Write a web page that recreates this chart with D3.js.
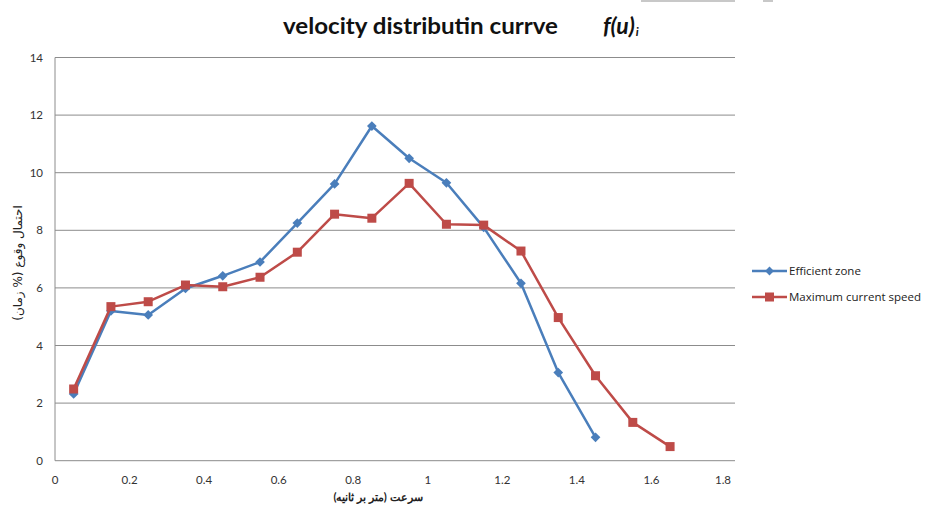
<!DOCTYPE html>
<html>
<head>
<meta charset="utf-8">
<script src="https://cdn.jsdelivr.net/npm/d3@7"></script>
<style>
  body { margin: 0; background: #fff; }
</style>
</head>
<body>
<div id="chart"></div>
<script>
// speeds (m/s) - middle of each class
var speedsEff = [0.05, 0.15, 0.25, 0.35, 0.45, 0.55, 0.65, 0.75, 0.85, 0.95, 1.05, 1.15, 1.25, 1.35, 1.45];
var speedsMax = [0.05, 0.15, 0.25, 0.35, 0.45, 0.55, 0.65, 0.75, 0.85, 0.95, 1.05, 1.15, 1.25, 1.35, 1.45, 1.55, 1.65];

// probability of occurrence (% time)
var efficientZone = [2.32, 5.2, 5.06, 5.98, 6.42, 6.9, 8.25, 9.61, 11.62, 10.5, 9.65, 8.1, 6.16, 3.06, 0.81];
var maxCurrent = [2.49, 5.35, 5.52, 6.1, 6.04, 6.37, 7.24, 8.56, 8.42, 9.63, 8.21, 8.18, 7.28, 4.97, 2.95, 1.33, 0.49];

var xTicks = [0, 0.2, 0.4, 0.6, 0.8, 1, 1.2, 1.4, 1.6, 1.8];
var yTicks = [0, 2, 4, 6, 8, 10, 12, 14];

var seriesNames = ["Efficient zone", "Maximum current speed"];

var width = 930, height = 508;
var blue = "#4a7ebb", red = "#be4b48";

var svg = d3.select("#chart").append("svg")
    .attr("width", width)
    .attr("height", height)
    .style("font-family", "Lato, 'Open Sans', sans-serif");

// little gray bar cut at the top (from the screenshot)
svg.append("rect").attr("x", 641).attr("y", 0).attr("width", 94).attr("height", 2).attr("fill", "#c8c8c8");
svg.append("rect").attr("x", 763).attr("y", 0).attr("width", 10).attr("height", 2).attr("fill", "#c8c8c8");

var x = d3.scaleLinear().domain([0, 1.8]).range([55, 726]);
var y = d3.scaleLinear().domain([0, 14]).range([460.7, 57.5]);

// gridlines
svg.selectAll(".grid")
    .data(yTicks)
    .enter()
    .append("line")
    .attr("x1", x(0))
    .attr("x2", 735)
    .attr("y1", d => y(d))
    .attr("y2", d => y(d))
    .attr("stroke", "#8c8c8c")
    .attr("stroke-width", 1);

// left axis line
svg.append("line")
    .attr("x1", x(0)).attr("x2", x(0))
    .attr("y1", y(14)).attr("y2", y(0))
    .attr("stroke", "#8c8c8c");

// tick labels
svg.selectAll(".ylab")
    .data(yTicks)
    .enter()
    .append("text")
    .attr("x", 43)
    .attr("y", d => y(d) + 4)
    .attr("text-anchor", "end")
    .attr("font-size", 11.5)
    .attr("fill", "#333")
    .text(d => d);

svg.selectAll(".xlab")
    .data(xTicks)
    .enter()
    .append("text")
    .attr("x", d => x(d) - (d == 1.8 ? 3 : 0))
    .attr("y", 484)
    .attr("text-anchor", "middle")
    .attr("font-size", 11.5)
    .attr("fill", "#333")
    .text(d => d);

// lines
var line = d3.line()
    .x(d => x(d[0]))
    .y(d => y(d[1]));

var effData = speedsEff.map((s, i) => [s, efficientZone[i]]);
var maxData = speedsMax.map((s, i) => [s, maxCurrent[i]]);

svg.append("path")
    .datum(effData)
    .attr("d", line)
    .attr("fill", "none")
    .attr("stroke", blue)
    .attr("stroke-width", 2.5)
    .attr("stroke-linejoin", "round");

svg.selectAll(".dia")
    .data(effData)
    .enter()
    .append("path")
    .attr("d", d3.symbol().type(d3.symbolDiamond2).size(60))
    .attr("transform", d => "translate(" + x(d[0]) + "," + y(d[1]) + ")")
    .attr("fill", blue);

svg.append("path")
    .datum(maxData)
    .attr("d", line)
    .attr("fill", "none")
    .attr("stroke", red)
    .attr("stroke-width", 2.5)
    .attr("stroke-linejoin", "round");

svg.selectAll(".sq")
    .data(maxData)
    .enter()
    .append("rect")
    .attr("x", d => x(d[0]) - 4.5)
    .attr("y", d => y(d[1]) - 4.5)
    .attr("width", 9)
    .attr("height", 9)
    .attr("fill", red);

// title
svg.append("text")
    .attr("x", 283)
    .attr("y", 34)
    .attr("font-size", 23)
    .attr("font-weight", "bold")
    .attr("fill", "#111")
    .attr("textLength", 275)
    .attr("lengthAdjust", "spacingAndGlyphs")
    .text("velocity distributin currve");

var fu = svg.append("text")
    .attr("x", 603)
    .attr("y", 34)
    .attr("font-size", 23)
    .attr("font-weight", "bold")
    .attr("font-style", "italic")
    .attr("fill", "#111");
fu.append("tspan").text("f(u)");
fu.append("tspan").attr("font-size", 12).attr("dx", 1).attr("dy", 2).text("i");

// axis titles
svg.append("text")
    .attr("transform", "translate(22,263) rotate(-90)")
    .attr("text-anchor", "middle")
    .attr("font-size", 12)
    .attr("fill", "#222")
    .style("font-family", "'DejaVu Sans', sans-serif")
    .text("احتمال وقوع (% زمان)");

svg.append("text")
    .attr("x", 378)
    .attr("y", 501)
    .attr("text-anchor", "middle")
    .attr("font-size", 11)
    .attr("font-weight", "bold")
    .attr("fill", "#222")
    .text("سرعت (متر بر ثانیه)");

// legend
var legend = svg.selectAll(".leg")
    .data(seriesNames)
    .enter()
    .append("g")
    .attr("transform", (d, i) => "translate(752," + (271 + i * 26) + ")");

legend.append("line")
    .attr("x1", 0).attr("x2", 35)
    .attr("stroke", (d, i) => i == 0 ? blue : red)
    .attr("stroke-width", 2.5);

legend.filter((d, i) => i == 0).append("path")
    .attr("d", d3.symbol().type(d3.symbolDiamond2).size(50))
    .attr("transform", "translate(17.5,0)")
    .attr("fill", blue);

legend.filter((d, i) => i == 1).append("rect")
    .attr("x", 13).attr("y", -4.5).attr("width", 9).attr("height", 9)
    .attr("fill", red);

legend.append("text")
    .attr("x", 37)
    .attr("y", 4)
    .attr("font-size", 11.5)
    .attr("fill", "#222")
    .style("font-family", "'Open Sans', sans-serif")
    .text(d => d);
</script>
</body>
</html>
